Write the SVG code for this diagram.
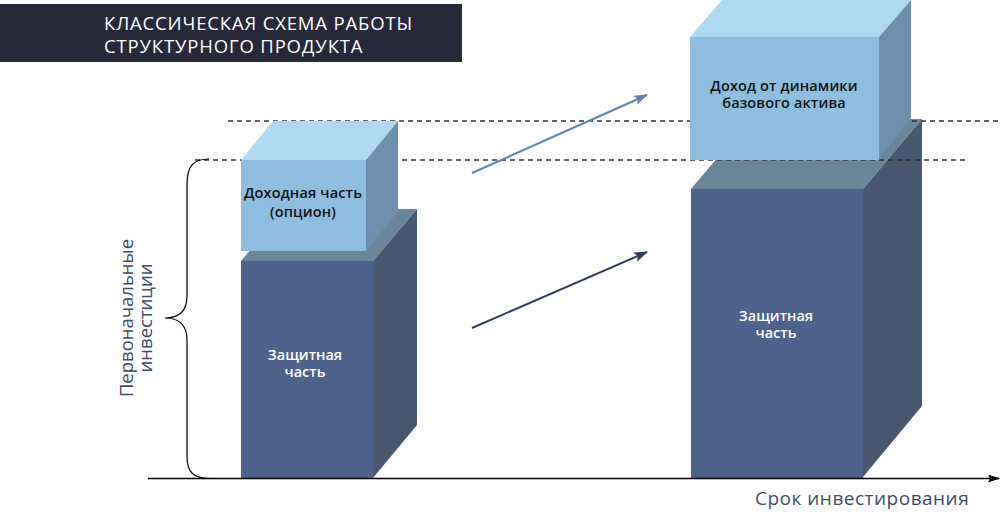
<svg xmlns="http://www.w3.org/2000/svg" width="1000" height="517" viewBox="0 0 1000 517">
<style>
.lf{fill:#8FBDE0}.lt{fill:#AFD8F3}.lr{fill:#6F8FAE}
.df{fill:#4F628B}.dt{fill:#6A8699}.dr{fill:#48586F}
.t{font-family:"Open Sans","Noto Sans","Liberation Sans",sans-serif}
.lab{font-size:14.5px;font-weight:600;text-anchor:middle;letter-spacing:0.15px}
.wl{font-size:14.5px;font-weight:600;text-anchor:middle;fill:#fff}
.dash{stroke:#333;stroke-width:1.3;stroke-dasharray:5 4;fill:none}
.ax{font-size:18.5px;fill:#3E4C66}
</style>
<defs>
<marker id="ahL" markerWidth="14" markerHeight="10" refX="13" refY="5" orient="auto" markerUnits="userSpaceOnUse"><path d="M0,0 L14,5 L0,10 L3,5 Z" fill="#5E86AB"/></marker>
<marker id="ahD" markerWidth="14" markerHeight="10" refX="13" refY="5" orient="auto" markerUnits="userSpaceOnUse"><path d="M0,0 L14,5 L0,10 L3,5 Z" fill="#2F3D5C"/></marker>
<marker id="ahX" markerWidth="12" markerHeight="8" refX="11" refY="4" orient="auto" markerUnits="userSpaceOnUse"><path d="M0,0 L12,4 L0,8 L2,4 Z" fill="#000"/></marker>
</defs>
<rect width="1000" height="517" fill="#fff"/>
<g id="title">
<rect x="0" y="4" width="462" height="58" fill="#272839"/>
<text class="t" x="104" y="30" font-size="18.5" fill="#fff" letter-spacing="0.85">КЛАССИЧЕСКАЯ СХЕМА РАБОТЫ</text>
<text class="t" x="104" y="53" font-size="18.5" fill="#fff" letter-spacing="0.85">СТРУКТУРНОГО ПРОДУКТА</text>
</g>
<g id="node-protect-left">
<polygon class="dt" points="241,261 285,209 417,209 373,261"/>
<polygon class="dr" points="373,261 417,209 417,425 373,478"/>
<rect class="df" x="241" y="261" width="132" height="217"/>
<text class="t wl" x="305" y="360">Защитная</text>
<text class="t wl" x="305" y="377">часть</text>
</g>
<g id="node-protect-right">
<polygon class="dt" points="691,189 750,119 922,119 863,189"/>
<polygon class="dr" points="863,189 922,119 922,406 863,477"/>
<rect class="df" x="691" y="189" width="172" height="289"/>
<text class="t wl" x="776" y="321">Защитная</text>
<text class="t wl" x="776" y="338">часть</text>
</g>
<g id="connectors">
<line class="dash" x1="228" y1="121" x2="1000" y2="121"/>
<line class="dash" x1="195" y1="160" x2="966" y2="160"/>
<line x1="472" y1="173" x2="647" y2="95" stroke="#5E86AB" stroke-width="2" marker-end="url(#ahL)"/>
<line x1="472" y1="328" x2="647" y2="252" stroke="#2F3D5C" stroke-width="2" marker-end="url(#ahD)"/>
<line x1="148" y1="478.5" x2="999" y2="478.5" stroke="#000" stroke-width="1.5" marker-end="url(#ahX)"/>
<path d="M209,159 C193,159 187,166 187,185 L187,296 C187,312 179,318 165,318 C179,318 187,324 187,340 L187,456 C187,472 193,478.5 210,478.5" fill="none" stroke="#000" stroke-width="1.2"/>
</g>
<g id="node-option">
<polygon class="lt" points="241,160 273,121 398,121 366,160"/>
<polygon class="lr" points="366,160 398,121 398,212 366,251"/>
<rect class="lf" x="241" y="160" width="125" height="91"/>
<text class="t lab" x="303" y="198" fill="#111">Доходная часть</text>
<text class="t lab" x="303" y="217" fill="#111">(опцион)</text>
</g>
<g id="node-income">
<polygon class="lt" points="690,37 722,0 911,0 879,37"/>
<polygon class="lr" points="879,37 911,0 911,118 879,160"/>
<rect class="lf" x="690" y="37" width="189" height="123"/>
<text class="t lab" x="784" y="91" fill="#111">Доход от динамики</text>
<text class="t lab" x="784" y="108" fill="#111">базового актива</text>
</g>
<g id="axis-labels">
<text class="t ax" transform="translate(133,318) rotate(-90)" text-anchor="middle">Первоначальные</text>
<text class="t ax" transform="translate(152,318) rotate(-90)" text-anchor="middle">инвестиции</text>
<text class="t" x="755" y="505" font-size="19" fill="#3E4C66" letter-spacing="0.5">Срок инвестирования</text>
</g>
</svg>
